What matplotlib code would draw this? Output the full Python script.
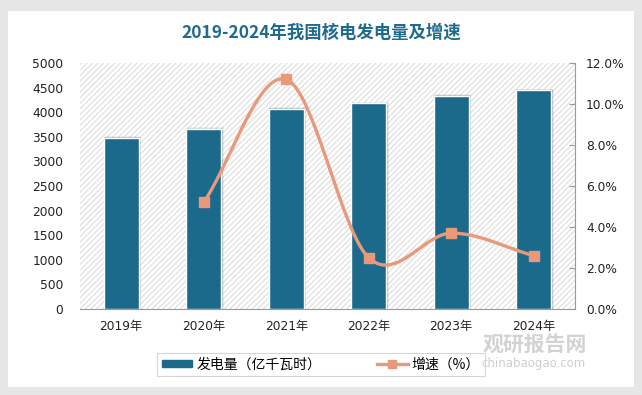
import numpy as np
import matplotlib.pyplot as plt
from matplotlib.patches import Rectangle
from matplotlib.lines import Line2D
from matplotlib.ticker import FuncFormatter

plt.rcParams['font.family'] = ['DejaVu Sans', 'Noto Sans CJK SC']
plt.rcParams['hatch.linewidth'] = 0.6
plt.rcParams['hatch.color'] = '#d4d4d4'

years = ['2019年', '2020年', '2021年', '2022年', '2023年', '2024年']
output = [3481, 3662, 4075, 4178, 4334, 4447]   # 亿千瓦时
growth = [None, 5.2, 11.2, 2.5, 3.7, 2.6]       # %

bar_color = '#1b6a8c'
line_color = '#e8997a'


def smooth(xs, ys, n=40):
    # catmull-rom like Excel's smoothed line
    xs = np.asarray(xs, float)
    ys = np.asarray(ys, float)
    px = np.concatenate([[2 * xs[0] - xs[1]], xs, [2 * xs[-1] - xs[-2]]])
    py = np.concatenate([[2 * ys[0] - ys[1]], ys, [2 * ys[-1] - ys[-2]]])
    outx, outy = [], []
    t = np.linspace(0, 1, n)
    for i in range(1, len(px) - 2):
        for p, out in ((px, outx), (py, outy)):
            p0, p1, p2, p3 = p[i - 1], p[i], p[i + 1], p[i + 2]
            c1 = p1 + (p2 - p0) / 6
            c2 = p2 - (p3 - p1) / 6
            out.extend((1 - t) ** 3 * p1 + 3 * (1 - t) ** 2 * t * c1 + 3 * (1 - t) * t ** 2 * c2 + t ** 3 * p2)
    return np.array(outx), np.array(outy)


fig = plt.figure(figsize=(6.42, 3.95), dpi=100)
fig.patch.set_facecolor('#e6e6e6')
fig.patches.append(Rectangle((8 / 642, 1 - 387 / 395), 626 / 642, 376 / 395,
                             transform=fig.transFigure, facecolor='white',
                             edgecolor='none', zorder=-5))

ax = fig.add_axes([80 / 642, 1 - 309 / 395, 495 / 642, 246 / 395])
ax.set_facecolor('none')
ax.add_patch(Rectangle((0, 0), 1, 1, transform=ax.transAxes, facecolor='white',
                       edgecolor='#d4d4d4', hatch='//////', lw=0, zorder=0))

x = np.arange(len(years))
w = 0.42
# soft shadow around the bars
for k, a in enumerate([0.07, 0.10, 0.14]):
    grow = 0.04 - k * 0.012
    ax.bar(x + 0.015, np.array(output) + 30 - 12 * k, w + grow, color='#333333',
           alpha=a, zorder=1, lw=0)
ax.bar(x, output, w, color=bar_color, edgecolor='white', lw=1, zorder=2)

ax.set_xlim(-0.5, len(years) - 0.5)
ax.set_ylim(0, 5000)
ax.set_yticks(range(0, 5001, 500))
ax.set_xticks(x)
ax.set_xticklabels(years)
for s in ['top', 'right', 'left']:
    ax.spines[s].set_visible(False)
ax.spines['bottom'].set_color('#9a9a9a')
ax.tick_params(axis='both', length=0, labelsize=8.8, colors='#222222')
ax.tick_params(axis='y', pad=12)
ax.tick_params(axis='x', pad=8)

ax2 = ax.twinx()
gx = [i for i, g in enumerate(growth) if g is not None]
gy = [g for g in growth if g is not None]
sx, sy = smooth(gx, gy)
ax2.plot(sx, sy, color=line_color, lw=2.4, zorder=3, solid_capstyle='round')
ax2.plot(gx, gy, 's', color=line_color, ms=6.5, zorder=4)
ax2.set_ylim(0, 12)
ax2.set_yticks(np.arange(0, 12.1, 2))
ax2.yaxis.set_major_formatter(FuncFormatter(lambda v, p: f'{v:.1f}%'))
for s in ['top', 'left', 'bottom']:
    ax2.spines[s].set_visible(False)
ax2.spines['right'].set_color('#9a9a9a')
ax2.tick_params(axis='y', direction='in', length=4, color='#9a9a9a',
                labelsize=8.8, labelcolor='#222222', pad=8)

fig.text(0.5, 1 - 33 / 395, '2019-2024年我国核电发电量及增速', ha='center', va='center',
         fontsize=12.5, fontweight='bold', color='#1f6b8f',
         family=['Noto Sans CJK SC', 'DejaVu Sans'])

handles = [Rectangle((0, 0), 1, 1, color=bar_color),
           Line2D([], [], color=line_color, lw=2.4, marker='s', ms=6)]
leg = fig.legend(handles, ['发电量（亿千瓦时）', '增速（%）'], loc='center',
                 bbox_to_anchor=(321 / 642, 1 - 364.5 / 395), ncol=2, frameon=True,
                 fancybox=False, edgecolor='#cccccc', handlelength=2.2,
                 handleheight=0.4, handletextpad=0.3, columnspacing=4.0, borderpad=0.35,
                 prop={'family': ['Noto Sans CJK SC'], 'size': 10})
leg.get_frame().set_linewidth(0.8)

# watermark
fig.text(535 / 642, 1 - 344 / 395, '观研报告网', ha='center', va='center', fontsize=15,
         fontweight='bold', color='#d2d2d2', family=['Noto Sans CJK SC'], zorder=10)
fig.text(533 / 642, 1 - 363 / 395, 'chinabaogao.com', ha='center', va='center', fontsize=8.5,
         color='#cfcfcf', zorder=10)

fig.savefig('out.png', dpi=100, facecolor=fig.get_facecolor())
